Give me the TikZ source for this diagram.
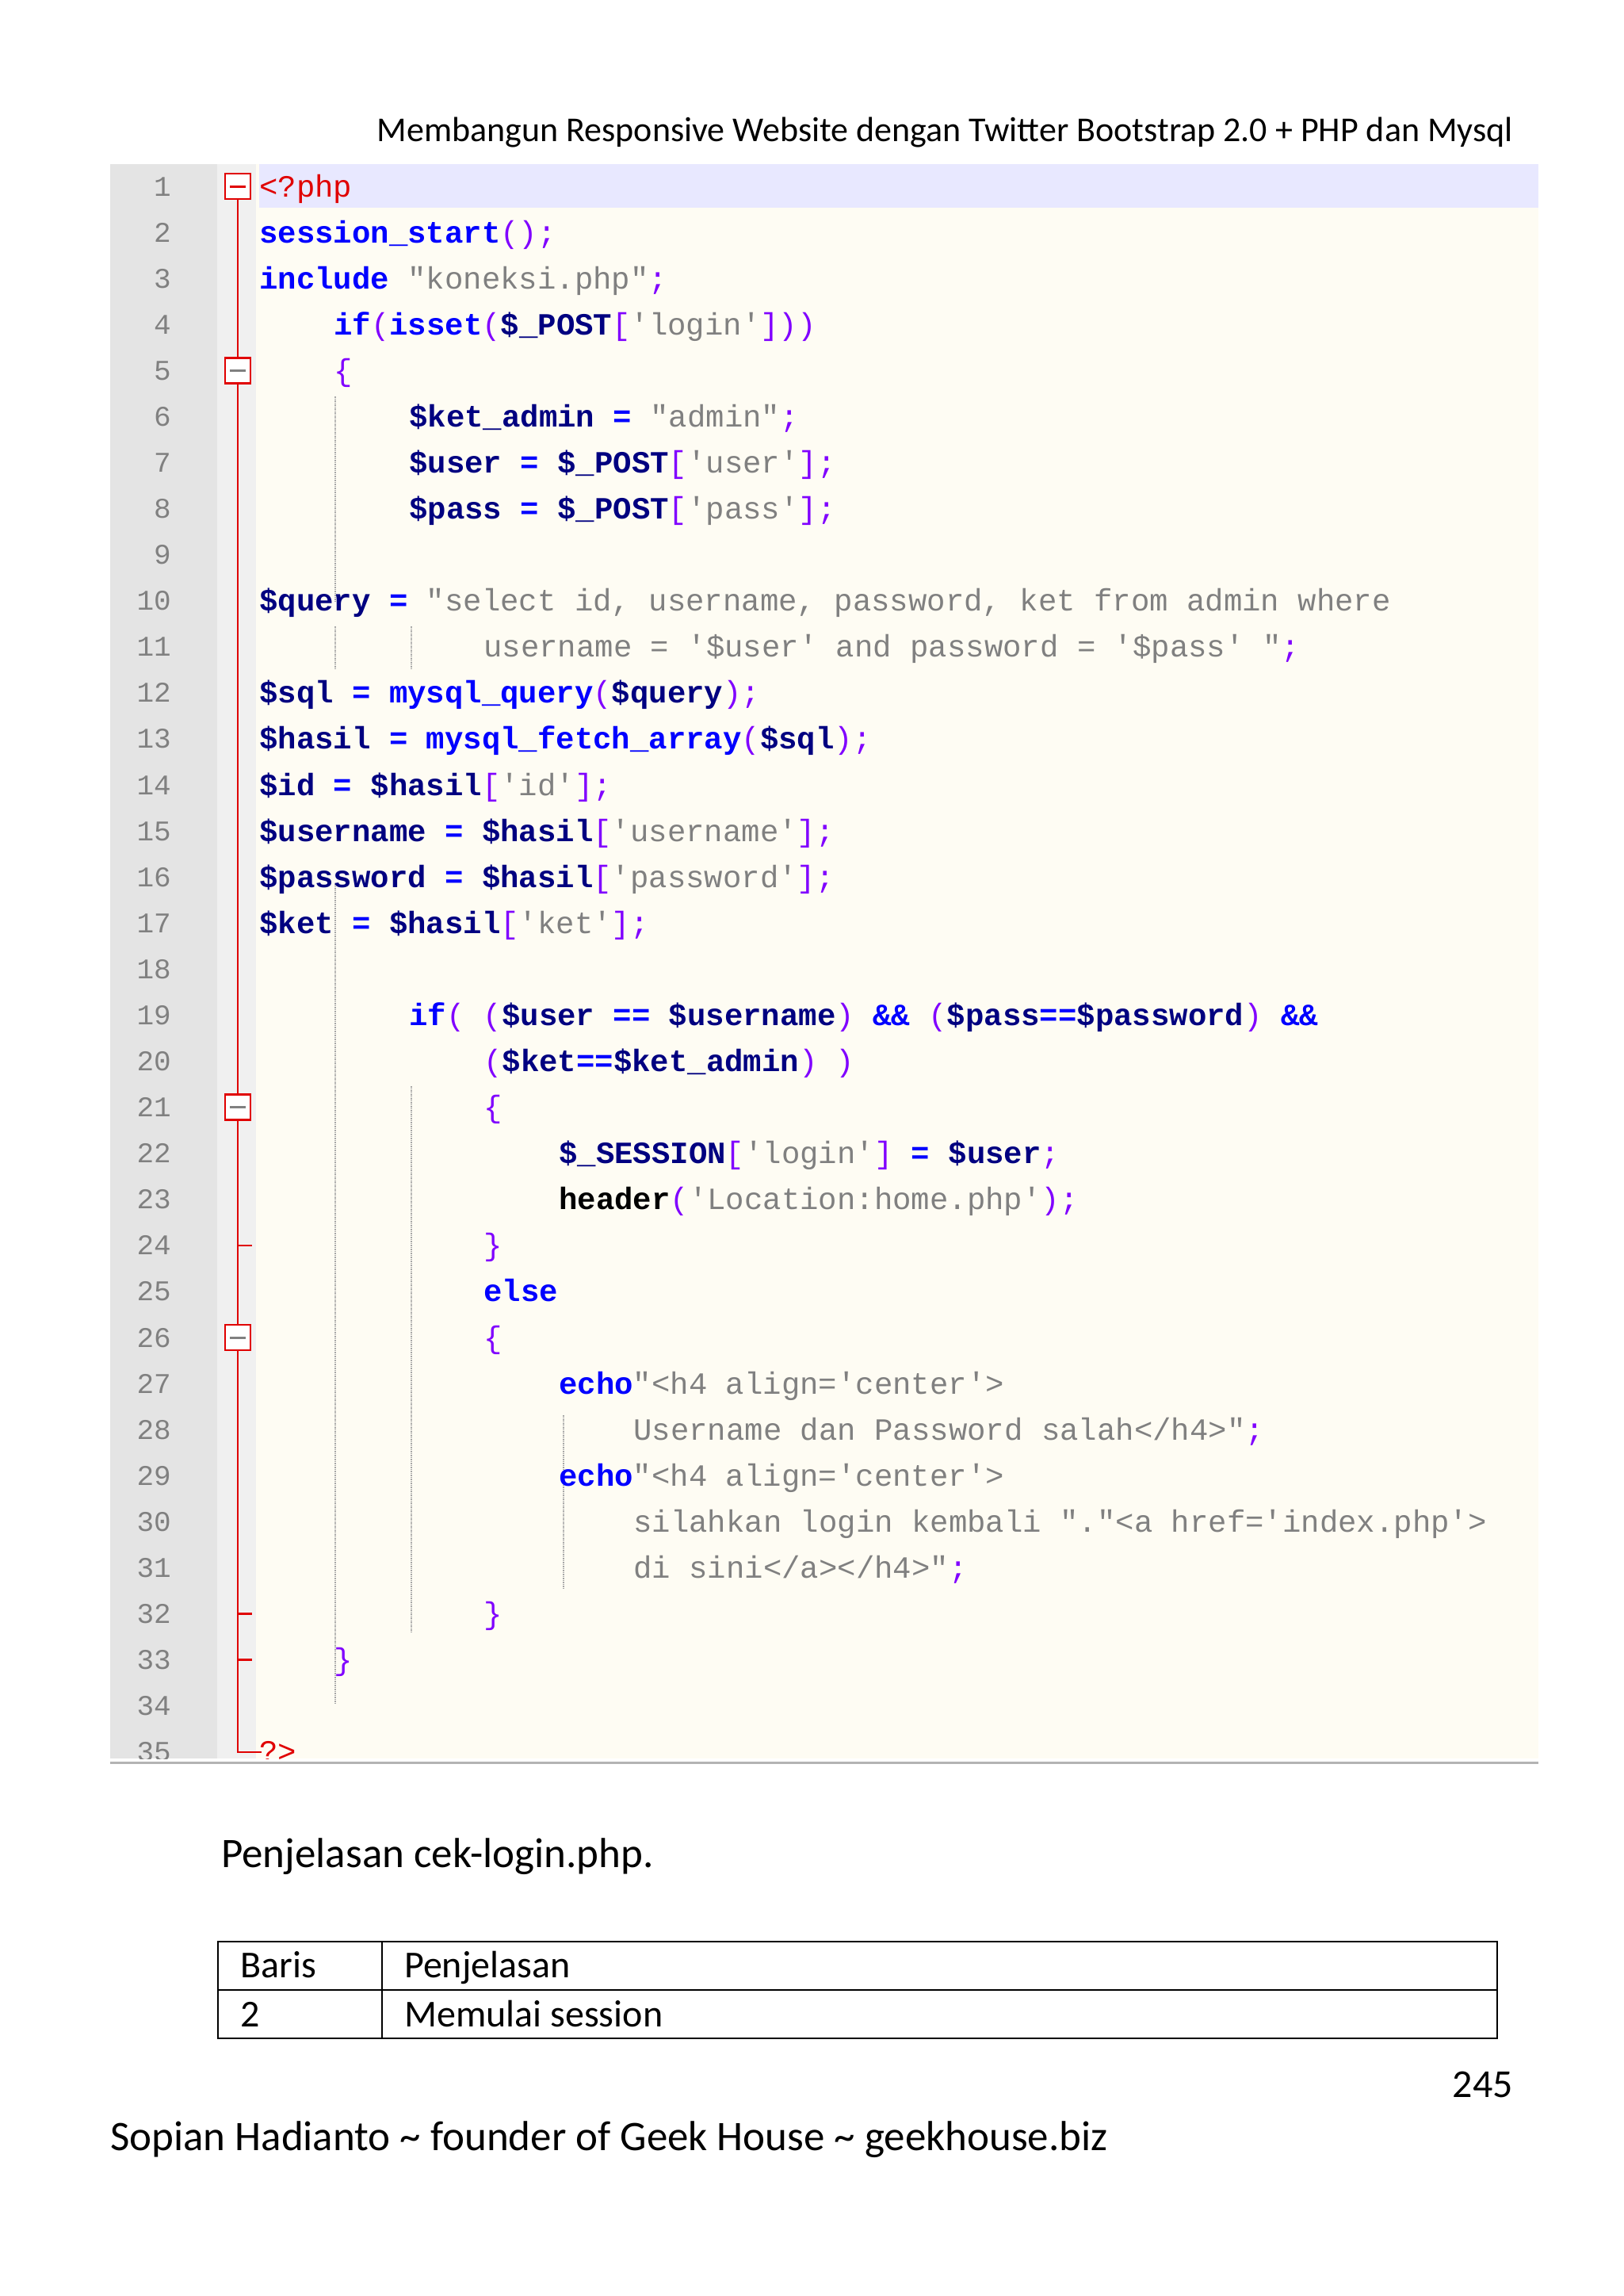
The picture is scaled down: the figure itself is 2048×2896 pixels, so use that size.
\documentclass[tikz,border=0pt]{standalone}
\usepackage{fontspec}
\setmainfont{Carlito}
\setmonofont{Liberation Mono}
\definecolor{kw}{HTML}{0000FF}
\definecolor{vr}{HTML}{000080}
\definecolor{st}{HTML}{808080}
\definecolor{pu}{HTML}{8000FF}
\definecolor{bg}{HTML}{FEFCF3}
\definecolor{hl}{HTML}{E8E8FF}
\definecolor{gut}{HTML}{E4E4E4}
\definecolor{fld}{HTML}{F0F0F0}
\definecolor{red1}{HTML}{E00000}
\newcommand{\ckw}[1]{\textcolor{kw}{\bfseries #1}}
\newcommand{\cvar}[1]{\textcolor{vr}{\bfseries #1}}
\newcommand{\cstr}[1]{\textcolor{st}{#1}}
\newcommand{\cpun}[1]{\textcolor{pu}{#1}}
\newcommand{\cop}[1]{\textcolor{kw}{\bfseries #1}}
\newcommand{\cblk}[1]{\textcolor{black}{\bfseries #1}}
\begin{document}
\begin{tikzpicture}[x=1pt,y=-1pt,
  code/.style={anchor=base west,inner sep=0pt,font=\ttfamily\fontsize{39}{40}\selectfont},
  lno/.style={anchor=base east,inner sep=0pt,text=st,font=\ttfamily\fontsize{36}{38}\selectfont},
  txt/.style={inner sep=0pt,font=\fontsize{48}{52}\selectfont},
  foldbox/.style={draw=red1,line width=2.5pt,fill=white,minimum size=32pt,inner sep=0pt},
  guide/.style={st!70,densely dotted,line width=1.5pt}]
\useasboundingbox (0,0) rectangle (2048,2896);
\fill[white] (0,0) rectangle (2048,2896);
% header
\node[txt,anchor=base east,font=\fontsize{44}{48}\selectfont] (hdr) at (1909,178) {Membangun Responsive Website dengan Twitter Bootstrap 2.0 + PHP dan Mysql};
% code panel
\begin{scope}
\clip (139,207) rectangle (1941,2218);
\fill[bg] (139,207) rectangle (1941,2218);
\fill[gut] (139,207) rectangle (274,2218);
\fill[fld] (274,207) rectangle (323,2218);
\fill[hl] (327,207) rectangle (1941,262);
\draw[guide] (423,500) -- (423,760);
\draw[guide] (423,790) -- (423,845);
\draw[guide] (423,1115) -- (423,2150);
\draw[guide] (519,790) -- (519,845);
\draw[guide] (519,1370) -- (519,2060);
\draw[guide] (711,1785) -- (711,2005);
\draw[red1,line width=2.5pt] (300,235) -- (300,2210) -- (330,2210);
\foreach \l in {24,32,33} \draw[red1,line width=2.5pt] (300,{235+(\l-1)*58.08}) -- (318,{235+(\l-1)*58.08});
\foreach \l in {1,...,35} \node[lno] (n\l) at (216,{235+(\l-1)*58.08+12}) {\l};
\foreach \l/\c in {1/red1,5/st,21/st,26/st} {
  \node[foldbox] (f\l) at (300,{235+(\l-1)*58.08}) {};
  \draw[\c,line width=3pt] (290,{235+(\l-1)*58.08}) -- (310,{235+(\l-1)*58.08});
}
\def\yy#1{{235+(#1-1)*58.08+13}}
\node[code] (c1) at (327,\yy{1}) {\textcolor{red1}{<?php}};
\node[code] (c2) at (327,\yy{2}) {\ckw{session\_start}\cpun{();}};
\node[code] (c3) at (327,\yy{3}) {\ckw{include} \cstr{"koneksi.php"}\cpun{;}};
\node[code] (c4) at (421,\yy{4}) {\ckw{if}\cpun{(}\ckw{isset}\cpun{(}\cvar{\$\_POST}\cpun{[}\cstr{'login'}\cpun{]))}};
\node[code] (c5) at (421,\yy{5}) {\cpun{\{}};
\node[code] (c6) at (516,\yy{6}) {\cvar{\$ket\_admin} \cop{=} \cstr{"admin"}\cpun{;}};
\node[code] (c7) at (516,\yy{7}) {\cvar{\$user} \cop{=} \cvar{\$\_POST}\cpun{[}\cstr{'user'}\cpun{];}};
\node[code] (c8) at (516,\yy{8}) {\cvar{\$pass} \cop{=} \cvar{\$\_POST}\cpun{[}\cstr{'pass'}\cpun{];}};
\node[code] (c10) at (327,\yy{10}) {\cvar{\$query} \cop{=} \cstr{"select id, username, password, ket from admin where}};
\node[code] (c11) at (610,\yy{11}) {\cstr{username = '\$user' and password = '\$pass' "}\cpun{;}};
\node[code] (c12) at (327,\yy{12}) {\cvar{\$sql} \cop{=} \ckw{mysql\_query}\cpun{(}\cvar{\$query}\cpun{);}};
\node[code] (c13) at (327,\yy{13}) {\cvar{\$hasil} \cop{=} \ckw{mysql\_fetch\_array}\cpun{(}\cvar{\$sql}\cpun{);}};
\node[code] (c14) at (327,\yy{14}) {\cvar{\$id} \cop{=} \cvar{\$hasil}\cpun{[}\cstr{'id'}\cpun{];}};
\node[code] (c15) at (327,\yy{15}) {\cvar{\$username} \cop{=} \cvar{\$hasil}\cpun{[}\cstr{'username'}\cpun{];}};
\node[code] (c16) at (327,\yy{16}) {\cvar{\$password} \cop{=} \cvar{\$hasil}\cpun{[}\cstr{'password'}\cpun{];}};
\node[code] (c17) at (327,\yy{17}) {\cvar{\$ket} \cop{=} \cvar{\$hasil}\cpun{[}\cstr{'ket'}\cpun{];}};
\node[code] (c19) at (516,\yy{19}) {\ckw{if}\cpun{(}~\cpun{(}\cvar{\$user} \cop{==} \cvar{\$username}\cpun{)} \cop{\&\&} \cpun{(}\cvar{\$pass}\cop{==}\cvar{\$password}\cpun{)} \cop{\&\&}};
\node[code] (c20) at (610,\yy{20}) {\cpun{(}\cvar{\$ket}\cop{==}\cvar{\$ket\_admin}\cpun{)} \cpun{)}};
\node[code] (c21) at (610,\yy{21}) {\cpun{\{}};
\node[code] (c22) at (705,\yy{22}) {\cvar{\$\_SESSION}\cpun{[}\cstr{'login'}\cpun{]} \cop{=} \cvar{\$user}\cpun{;}};
\node[code] (c23) at (705,\yy{23}) {\cblk{header}\cpun{(}\cstr{'Location:home.php'}\cpun{);}};
\node[code] (c24) at (610,\yy{24}) {\cpun{\}}};
\node[code] (c25) at (610,\yy{25}) {\ckw{else}};
\node[code] (c26) at (610,\yy{26}) {\cpun{\{}};
\node[code] (c27) at (705,\yy{27}) {\ckw{echo}\cstr{"<h4 align='center'>}};
\node[code] (c28) at (799,\yy{28}) {\cstr{Username dan Password salah</h4>"}\cpun{;}};
\node[code] (c29) at (705,\yy{29}) {\ckw{echo}\cstr{"<h4 align='center'>}};
\node[code] (c30) at (799,\yy{30}) {\cstr{silahkan login kembali "."<a href='index.php'>}};
\node[code] (c31) at (799,\yy{31}) {\cstr{di sini</a></h4>"}\cpun{;}};
\node[code] (c32) at (610,\yy{32}) {\cpun{\}}};
\node[code] (c33) at (421,\yy{33}) {\cpun{\}}};
\node[code] (c35) at (327,\yy{35}) {\textcolor{red1}{?>}};
\end{scope}
\draw[st!60,line width=3pt] (139,2223) -- (1941,2223);
% explanation
\node[txt,anchor=base west,font=\fontsize{53}{56}\selectfont] (pj) at (279,2355) {Penjelasan cek-login.php.};
\draw[black,line width=2pt] (275,2449) rectangle (1889,2571);
\draw[black,line width=2pt] (275,2510) -- (1889,2510);
\draw[black,line width=2pt] (482,2449) -- (482,2571);
\node[txt,anchor=base west] (t1) at (303,2494) {Baris};
\node[txt,anchor=base west] (t2) at (510,2494) {Penjelasan};
\node[txt,anchor=base west] (t3) at (303,2556) {2};
\node[txt,anchor=base west] (t4) at (510,2556) {Memulai session};
\node[txt,anchor=base east,font=\fontsize{50}{52}\selectfont] (pg) at (1909,2645) {245};
\node[txt,anchor=base west,font=\fontsize{53}{56}\selectfont] (ft) at (139,2712) {Sopian Hadianto \textasciitilde{} founder of Geek House \textasciitilde{} geekhouse.biz};
\end{tikzpicture}
\end{document}
